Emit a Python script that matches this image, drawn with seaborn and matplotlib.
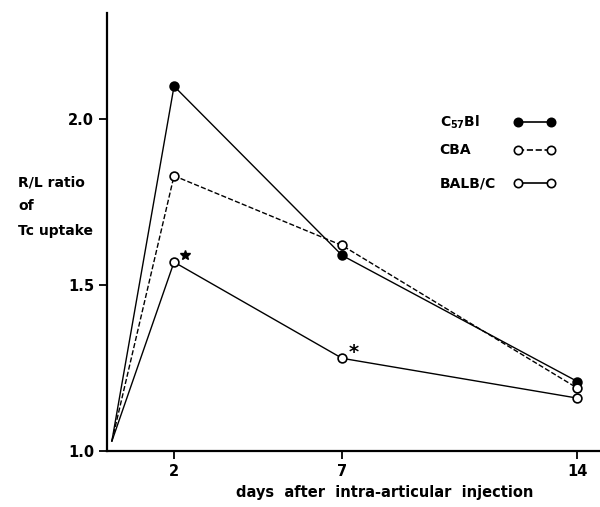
import matplotlib
matplotlib.use("Agg")
import numpy as np
import pandas as pd
import matplotlib.pyplot as plt
import seaborn as sns

# data
days = [2, 7, 14]
start_day = 0.15
start_ratio = 1.03
c57bl = [2.10, 1.59, 1.21]
cba = [1.83, 1.62, 1.19]
balbc = [1.57, 1.28, 1.16]
star_days = [2, 7]
star_vals = [1.57, 1.28]

strains = ["C57Bl", "CBA", "BALB/C"]
labels = [r"C$_{\mathbf{57}}$Bl", "CBA", "BALB/C"]
values = [c57bl, cba, balbc]
styles = ["-", "--", "-"]
faces = ["black", "white", "white"]

sns.set_style("ticks", {"axes.edgecolor": "black", "text.color": "black",
                        "xtick.color": "black", "ytick.color": "black",
                        "axes.labelcolor": "black"})
plt.rcParams["font.family"] = ["DejaVu Sans"]
plt.rcParams["font.weight"] = "bold"
plt.rcParams["mathtext.default"] = "bf"

fig = plt.figure(figsize=(6, 5.07), dpi=100)
ax = fig.add_axes([0.178, 0.110, 0.822, 0.864])

for name, vals, ls, fc in zip(strains, values, styles, faces):
    line_df = pd.DataFrame({"day": [start_day] + days, "ratio": [start_ratio] + vals})
    sns.lineplot(data=line_df, x="day", y="ratio", ax=ax, color="black",
                 linestyle=ls, linewidth=1.0, sort=False)
    pt_df = pd.DataFrame({"day": days, "ratio": vals})
    sns.scatterplot(data=pt_df, x="day", y="ratio", ax=ax, s=40, color=fc,
                    edgecolor="black", linewidth=1.2, zorder=5)

# significance marks next to BALB/C
ax.plot(star_days[0] + 0.33, star_vals[0] + 0.02, marker="*", color="black",
        markersize=7, linestyle="none")
ax.text(star_days[1] + 0.33, star_vals[1] + 0.018, "*", fontsize=14,
        fontweight="bold", ha="center", va="center")

ax.set_xlim(0, 14.67)
ax.set_ylim(1.0, 2.32)
ax.set_xticks(days)
ax.set_xticklabels([str(d) for d in days])
ax.set_yticks([1.0, 1.5, 2.0])
ax.set_yticklabels(["1.0", "1.5", "2.0"])
ax.tick_params(axis="both", direction="out", length=6, width=1.3,
               labelsize=10.5, pad=3)
for lbl in ax.get_xticklabels() + ax.get_yticklabels():
    lbl.set_fontweight("bold")

sns.despine(ax=ax)
ax.spines["left"].set_linewidth(1.6)
ax.spines["bottom"].set_linewidth(1.6)

ax.set_xlabel("")
ax.set_ylabel("")
ax.text(0.564, -0.094, "days  after  intra-articular  injection", fontsize=10.5,
        fontweight="bold", ha="center", va="center", transform=ax.transAxes)
for txt, yy in zip(["R/L ratio", "of", "Tc uptake"], [182, 206, 231]):
    fig.text(18 / 600, 1 - yy / 507, txt, fontsize=10, fontweight="bold",
             ha="left", va="center")

# key drawn as in the original: name, then marker-line-marker
key_y = [0.751, 0.687, 0.612]
for lab, ls, fc, yy in zip(labels, styles, faces, key_y):
    ax.text(0.675, yy, lab, fontsize=10, fontweight="bold", ha="left",
            va="center", transform=ax.transAxes)
    ax.plot([0.834, 0.900], [yy, yy], color="black", linestyle=ls,
            linewidth=1.2, transform=ax.transAxes, clip_on=False)
    ax.plot([0.834, 0.900], [yy, yy], linestyle="none", marker="o",
            markersize=6, markerfacecolor=fc, markeredgecolor="black",
            markeredgewidth=1.2, transform=ax.transAxes, clip_on=False)

fig.savefig("out.png", dpi=100)
